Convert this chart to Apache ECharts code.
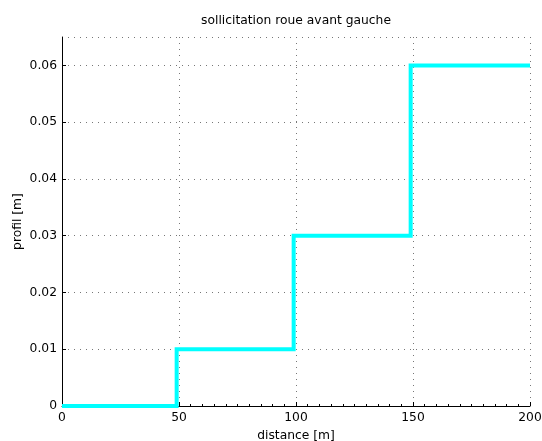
<!DOCTYPE html>
<html>
<head>
<meta charset="utf-8">
<script src="https://cdn.jsdelivr.net/npm/echarts@6/dist/echarts.min.js"></script>
<style>
  html, body { margin: 0; padding: 0; background: #fff; }
  #chart { width: 542px; height: 441px; }
</style>
</head>
<body>
<div id="chart"></div>
<script>
// Step profile of the road input under the front-left wheel
const distance = [0, 49, 49, 99, 99, 149, 149, 200];
const profile  = [0, 0, 0.01, 0.01, 0.03, 0.03, 0.06, 0.06];
const xTicks = [0, 50, 100, 150, 200];
const yTicks = [0, 0.01, 0.02, 0.03, 0.04, 0.05, 0.06];

const points = distance.map((d, i) => [d, profile[i]]);
const font = '"DejaVu Sans", "Liberation Sans", Arial, sans-serif';
const fs = 12.3;

const chart = echarts.init(document.getElementById('chart'));
chart.setOption({
  animation: false,
  title: {
    text: 'sollicitation roue avant gauche',
    left: 296, top: 15, padding: 0, textAlign: 'center',
    textStyle: { fontFamily: font, fontSize: fs, fontWeight: 'normal', color: '#000' }
  },
  grid: { left: 62, right: 12, top: 37, bottom: 35, containLabel: false, outerBoundsMode: 'none' },
  xAxis: {
    type: 'value', min: 0, max: 200, interval: 50,
    name: 'distance [m]', nameLocation: 'middle', nameGap: 24, nameMoveOverlap: false,
    nameTextStyle: { fontFamily: font, fontSize: fs, color: '#000' },
    axisLine: { lineStyle: { color: '#000', width: 1 } },
    axisTick: { inside: true, length: 4, lineStyle: { color: '#000' } },
    minorTick: { show: true, splitNumber: 10, length: 2, lineStyle: { color: '#000' } },
    axisLabel: { fontFamily: font, fontSize: fs, color: '#000', margin: 6,
      formatter: v => xTicks.includes(v) ? String(v) : '' },
    splitLine: { show: true, lineStyle: { color: '#777', type: [1, 5], width: 1 } }
  },
  yAxis: {
    type: 'value', min: 0, max: 0.065, interval: 0.01,
    name: 'profil [m]', nameLocation: 'middle', nameGap: 38, nameMoveOverlap: false,
    nameTextStyle: { fontFamily: font, fontSize: fs, color: '#000' },
    axisLine: { show: true, lineStyle: { color: '#000', width: 1 } },
    axisTick: { show: true, inside: true, length: 4, lineStyle: { color: '#000' } },
    axisLabel: { fontFamily: font, fontSize: fs, color: '#000', margin: 5, showMaxLabel: false,
      formatter: v => yTicks.some(t => Math.abs(t - v) < 1e-9) ? (v === 0 ? '0' : v.toFixed(2)) : '' },
    splitLine: { show: true, lineStyle: { color: '#777', type: [1, 5], width: 1 } }
  },
  series: [{
    type: 'line',
    data: points,
    showSymbol: false,
    lineStyle: { color: '#00ffff', width: 4, join: 'miter' },
    z: 5
  }]
});
</script>
</body>
</html>
